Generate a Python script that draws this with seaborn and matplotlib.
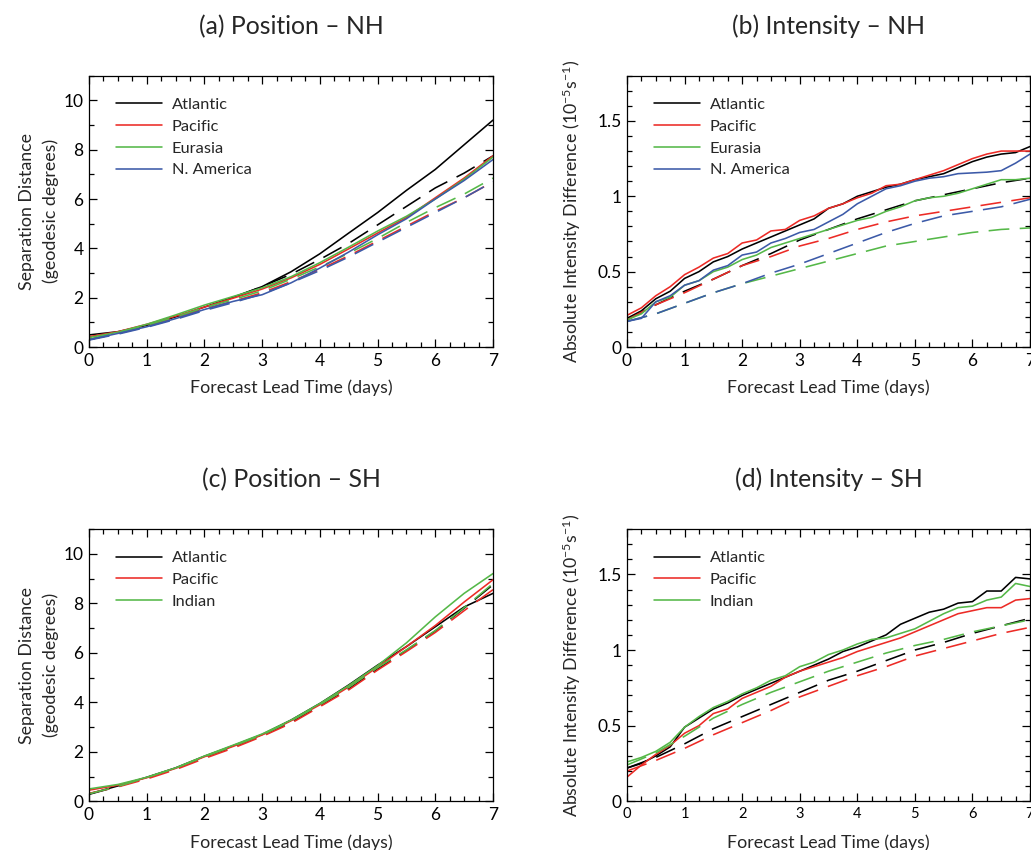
import numpy as np
import pandas as pd
import matplotlib
matplotlib.use("Agg")
import matplotlib.pyplot as plt
from matplotlib.lines import Line2D
from matplotlib.ticker import MultipleLocator, FuncFormatter
import seaborn as sns

sns.set_theme(style="white")
plt.rcParams['font.family'] = ['Lato', 'DejaVu Sans']
plt.rcParams['mathtext.fontset'] = 'custom'
plt.rcParams['mathtext.rm'] = 'Lato'
plt.rcParams['mathtext.it'] = 'Lato'

# ---------------- data ----------------
days_half = [0, 0.5, 1, 1.5, 2, 2.5, 3, 3.5, 4, 4.5, 5, 5.5, 6, 6.5, 7]
days_q = [0, 0.25, 0.5, 0.75, 1, 1.25, 1.5, 1.75, 2, 2.25, 2.5, 2.75, 3, 3.25, 3.5,
          3.75, 4, 4.25, 4.5, 4.75, 5, 5.25, 5.5, 5.75, 6, 6.25, 6.5, 6.75, 7]

nh_regions = ["Atlantic", "Pacific", "Eurasia", "N. America"]
sh_regions = ["Atlantic", "Pacific", "Indian"]

# (a) Position - NH (solid = model, dashed = reference)
pos_nh_solid = {
    "Atlantic":   [0.49, 0.62, 0.88, 1.22, 1.62, 2.02, 2.45, 3.05, 3.78, 4.62, 5.45, 6.35, 7.2, 8.2, 9.2],
    "Pacific":    [0.42, 0.62, 0.92, 1.25, 1.62, 1.98, 2.35, 2.8, 3.35, 3.98, 4.62, 5.25, 6.05, 6.85, 7.75],
    "Eurasia":    [0.38, 0.6, 0.92, 1.3, 1.7, 2.05, 2.4, 2.85, 3.42, 4.05, 4.7, 5.3, 6.0, 6.8, 7.7],
    "N. America": [0.3, 0.55, 0.82, 1.15, 1.52, 1.85, 2.12, 2.6, 3.2, 3.85, 4.55, 5.2, 6.0, 6.75, 7.6],
}
pos_nh_dashed = {
    "Atlantic":   [0.3, 0.55, 0.85, 1.2, 1.6, 2.0, 2.45, 2.95, 3.55, 4.2, 4.95, 5.7, 6.45, 7.05, 7.75],
    "Pacific":    [0.3, 0.55, 0.85, 1.18, 1.55, 1.85, 2.2, 2.65, 3.15, 3.7, 4.3, 4.9, 5.5, 6.05, 6.7],
    "Eurasia":    [0.3, 0.58, 0.88, 1.22, 1.6, 1.92, 2.28, 2.75, 3.25, 3.8, 4.4, 5.05, 5.65, 6.2, 6.85],
    "N. America": [0.28, 0.52, 0.8, 1.12, 1.48, 1.8, 2.15, 2.6, 3.1, 3.65, 4.25, 4.85, 5.45, 6.05, 6.7],
}

# (b) Intensity - NH
int_nh_solid = {
    "Atlantic":   [0.19, 0.24, 0.32, 0.37, 0.455, 0.50, 0.565, 0.60, 0.65, 0.69, 0.73, 0.77, 0.81, 0.85,
                   0.92, 0.95, 1.0, 1.03, 1.06, 1.08, 1.11, 1.13, 1.15, 1.19, 1.23, 1.26, 1.28, 1.29, 1.33],
    "Pacific":    [0.21, 0.26, 0.34, 0.40, 0.48, 0.53, 0.59, 0.62, 0.69, 0.71, 0.77, 0.78, 0.84, 0.87,
                   0.92, 0.95, 0.99, 1.02, 1.07, 1.08, 1.11, 1.14, 1.17, 1.21, 1.25, 1.28, 1.30, 1.30, 1.30],
    "Eurasia":    [0.18, 0.22, 0.30, 0.33, 0.41, 0.44, 0.50, 0.53, 0.58, 0.61, 0.66, 0.69, 0.72, 0.75,
                   0.78, 0.81, 0.84, 0.86, 0.90, 0.93, 0.97, 0.99, 1.0, 1.02, 1.05, 1.08, 1.11, 1.11, 1.12],
    "N. America": [0.17, 0.19, 0.30, 0.34, 0.41, 0.44, 0.51, 0.54, 0.61, 0.63, 0.69, 0.72, 0.76, 0.78,
                   0.83, 0.88, 0.95, 1.0, 1.05, 1.07, 1.10, 1.12, 1.13, 1.15, 1.155, 1.16, 1.17, 1.22, 1.28],
}
int_nh_dashed = {
    "Atlantic":   [0.18, 0.28, 0.37, 0.45, 0.54, 0.62, 0.71, 0.78, 0.85, 0.91, 0.97, 1.01, 1.05, 1.09, 1.12],
    "Pacific":    [0.18, 0.28, 0.36, 0.45, 0.54, 0.60, 0.67, 0.72, 0.78, 0.83, 0.87, 0.90, 0.93, 0.96, 0.99],
    "Eurasia":    [0.17, 0.22, 0.29, 0.36, 0.42, 0.47, 0.52, 0.57, 0.62, 0.67, 0.70, 0.73, 0.76, 0.78, 0.79],
    "N. America": [0.17, 0.22, 0.29, 0.36, 0.42, 0.49, 0.55, 0.62, 0.69, 0.76, 0.82, 0.87, 0.90, 0.93, 0.98],
}

# (c) Position - SH
pos_sh_solid = {
    "Atlantic": [0.3, 0.62, 0.97, 1.35, 1.82, 2.25, 2.7, 3.28, 3.95, 4.7, 5.5, 6.25, 7.05, 7.85, 8.4],
    "Pacific":  [0.45, 0.65, 0.95, 1.33, 1.8, 2.22, 2.68, 3.25, 3.9, 4.62, 5.42, 6.25, 7.1, 8.05, 8.95],
    "Indian":   [0.5, 0.68, 0.97, 1.35, 1.83, 2.27, 2.72, 3.28, 3.95, 4.68, 5.48, 6.4, 7.45, 8.4, 9.2],
}
pos_sh_dashed = {
    "Atlantic": [0.28, 0.6, 0.95, 1.32, 1.78, 2.2, 2.65, 3.2, 3.85, 4.55, 5.35, 6.1, 6.88, 7.8, 8.75],
    "Pacific":  [0.32, 0.58, 0.9, 1.28, 1.73, 2.15, 2.62, 3.15, 3.82, 4.5, 5.3, 6.05, 6.82, 7.7, 8.55],
    "Indian":   [0.3, 0.6, 0.96, 1.34, 1.8, 2.23, 2.68, 3.24, 3.9, 4.6, 5.4, 6.12, 6.9, 7.82, 8.8],
}

# (d) Intensity - SH
int_sh_solid = {
    "Atlantic": [0.22, 0.25, 0.30, 0.36, 0.49, 0.55, 0.61, 0.65, 0.70, 0.74, 0.78, 0.82, 0.86, 0.90,
                 0.94, 0.99, 1.02, 1.06, 1.10, 1.17, 1.21, 1.25, 1.27, 1.31, 1.32, 1.39, 1.39, 1.48, 1.47],
    "Pacific":  [0.16, 0.24, 0.31, 0.37, 0.45, 0.50, 0.58, 0.61, 0.68, 0.72, 0.76, 0.82, 0.86, 0.89,
                 0.92, 0.95, 0.99, 1.02, 1.05, 1.08, 1.12, 1.16, 1.20, 1.24, 1.26, 1.28, 1.28, 1.33, 1.34],
    "Indian":   [0.26, 0.29, 0.33, 0.39, 0.49, 0.56, 0.62, 0.66, 0.71, 0.75, 0.80, 0.83, 0.89, 0.92,
                 0.97, 1.00, 1.04, 1.07, 1.08, 1.11, 1.14, 1.19, 1.24, 1.28, 1.29, 1.33, 1.35, 1.44, 1.42],
}
int_sh_dashed = {
    "Atlantic": [0.22, 0.29, 0.38, 0.48, 0.56, 0.64, 0.72, 0.80, 0.86, 0.93, 1.00, 1.05, 1.11, 1.16, 1.21],
    "Pacific":  [0.20, 0.27, 0.35, 0.44, 0.52, 0.60, 0.69, 0.76, 0.83, 0.89, 0.96, 1.01, 1.06, 1.11, 1.15],
    "Indian":   [0.24, 0.32, 0.43, 0.55, 0.64, 0.72, 0.79, 0.86, 0.92, 0.98, 1.03, 1.07, 1.12, 1.16, 1.20],
}

colors = {"Atlantic": "#000000", "Pacific": "#ec2b26", "Eurasia": "#55b848",
          "N. America": "#3c5aa8", "Indian": "#55b848"}

titles = ["(a) Position \u2013 NH", "(b) Intensity \u2013 NH",
          "(c) Position \u2013 SH", "(d) Intensity \u2013 SH"]
pos_ylabel = "Separation Distance\n(geodesic degrees)"
int_ylabel = r"Absolute Intensity Difference (10$^{-5}$s$^{-1}$)"
xlabel = "Forecast Lead Time (days)"


def build_df(solid, dashed, x_solid, x_dashed):
    rows = []
    for reg, vals in solid.items():
        for d, v in zip(x_solid, vals):
            rows.append((d, v, reg, "solid"))
    for reg, vals in dashed.items():
        for d, v in zip(x_dashed, vals):
            rows.append((d, v, reg, "dashed"))
    return pd.DataFrame(rows, columns=["day", "value", "region", "kind"])


fig = plt.figure(figsize=(10.31, 8.5), dpi=100)
W, H = 1031, 850
boxes = [(89, 75.7, 404, 271.3), (627, 75.7, 403, 271.3),
         (89, 529, 404, 272.3), (627, 529, 403, 272.3)]
axes = [fig.add_axes([l / W, 1 - (t + h) / H, w / W, h / H]) for (l, t, w, h) in boxes]

panels = [
    (build_df(pos_nh_solid, pos_nh_dashed, days_half, days_half), nh_regions, 11, 2, 1, pos_ylabel),
    (build_df(int_nh_solid, int_nh_dashed, days_q, days_half), nh_regions, 1.8, 0.5, 0.1, int_ylabel),
    (build_df(pos_sh_solid, pos_sh_dashed, days_half, days_half), sh_regions, 11, 2, 1, pos_ylabel),
    (build_df(int_sh_solid, int_sh_dashed, days_q, days_half), sh_regions, 1.8, 0.5, 0.1, int_ylabel),
]

for i, (ax, (df, regs, ymax, ymaj, ymin, ylab)) in enumerate(zip(axes, panels)):
    pal = {r: colors[r] for r in regs}
    sns.lineplot(data=df, x="day", y="value", hue="region", style="kind",
                 hue_order=regs, palette=pal, style_order=["solid", "dashed"],
                 dashes={"solid": "", "dashed": (13, 6.5)},
                 estimator=None, sort=False, legend=False, linewidth=1.15, ax=ax)
    ax.set_xlim(0, 7)
    ax.set_ylim(0, ymax)
    ax.xaxis.set_major_locator(MultipleLocator(1))
    ax.xaxis.set_minor_locator(MultipleLocator(0.25))
    ax.yaxis.set_major_locator(MultipleLocator(ymaj))
    ax.yaxis.set_minor_locator(MultipleLocator(ymin))
    ax.yaxis.set_major_formatter(FuncFormatter(lambda v, p: f"{v:g}"))
    ax.tick_params(which="both", direction="in", top=True, right=True,
                   bottom=True, left=True, width=0.9, colors="#000000")
    ax.tick_params(which="major", length=6)
    ax.tick_params(which="minor", length=3.5)
    ax.tick_params(axis="y", labelsize=12.5, pad=4)
    ax.tick_params(axis="x", labelsize=12.5 if i != 3 else 10.5, pad=4)
    for s in ax.spines.values():
        s.set_color("#000000")
        s.set_linewidth(0.9)
    ax.set_xlabel(xlabel, fontsize=12.8, labelpad=8 if i != 3 else 10)
    if "\n" in ylab:
        ax.set_ylabel(ylab, fontsize=12.8, labelpad=3, linespacing=1.55)
    else:
        ax.set_ylabel(ylab, fontsize=12.8, labelpad=10)
    ax.set_title(titles[i], fontsize=17.8, pad=30)
    handles = [Line2D([0], [0], color=colors[r], lw=1.15) for r in regs]
    ax.legend(handles, regs, loc="upper left", bbox_to_anchor=(0.067, 0.92),
              frameon=False, fontsize=11.8, handlelength=2.8, handletextpad=0.6,
              labelspacing=0.45, borderaxespad=0, borderpad=0)

fig.savefig("out.png", dpi=100)
